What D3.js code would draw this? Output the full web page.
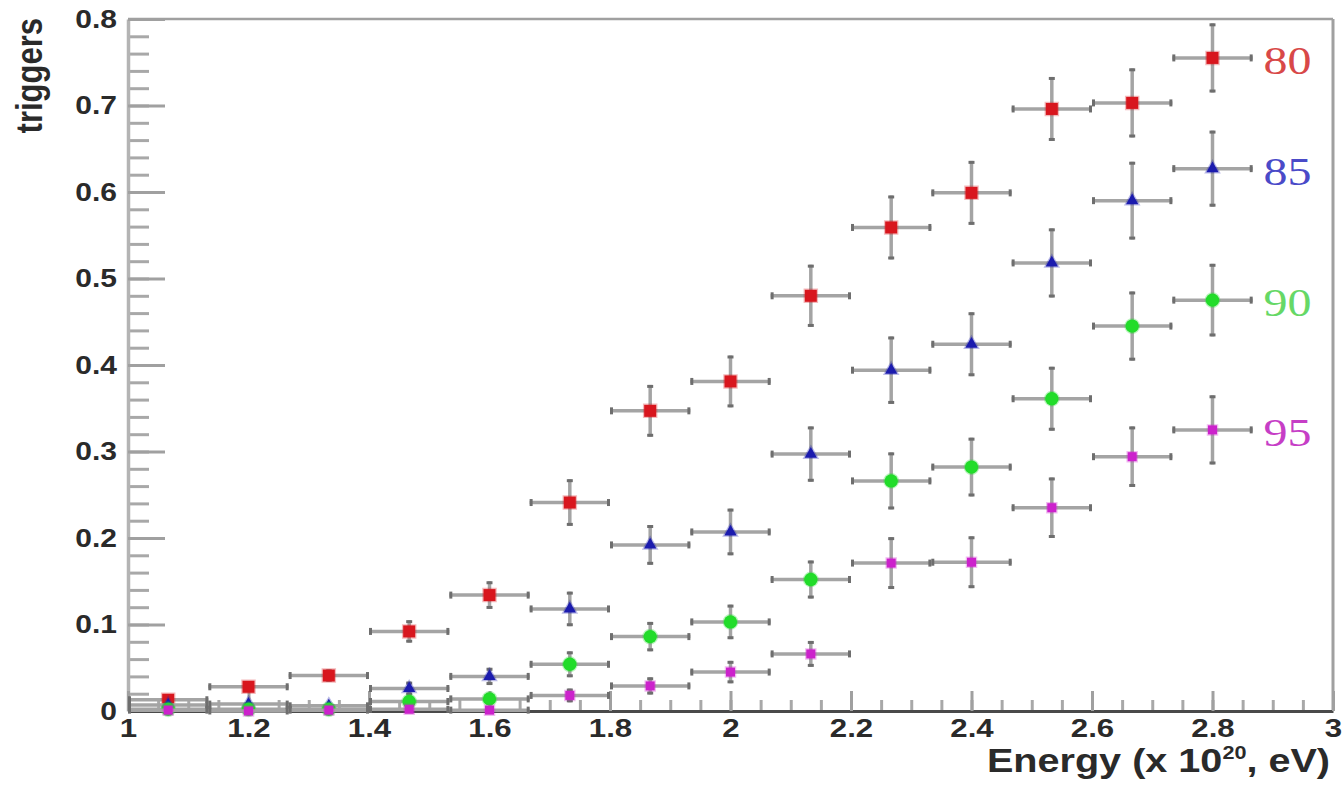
<!DOCTYPE html>
<html>
<head>
<meta charset="utf-8">
<script src="https://cdn.jsdelivr.net/npm/d3@7"></script>
<style>
  html, body { margin: 0; padding: 0; background: #fff; }
  svg { display: block; }
</style>
</head>
<body>
<svg id="chart" width="1344" height="789"></svg>
<script>
// ---- data ----
const binCenters = [1.0667, 1.2, 1.3333, 1.4667, 1.6, 1.7333, 1.8667, 2.0, 2.1333, 2.2667, 2.4, 2.5333, 2.6667, 2.8];
const binHalfWidth = 0.0667;

const seriesNames = ["80", "85", "90", "95"];
const trig80 = [0.013, 0.028, 0.041, 0.092, 0.134, 0.241, 0.347, 0.381, 0.480, 0.559, 0.599, 0.696, 0.703, 0.755];
const err80  = [0.004, 0.006, 0.007, 0.013, 0.016, 0.027, 0.030, 0.030, 0.036, 0.037, 0.037, 0.037, 0.040, 0.040];
const trig85 = [0.007, 0.008, 0.006, 0.026, 0.040, 0.118, 0.192, 0.207, 0.297, 0.394, 0.424, 0.518, 0.590, 0.627];
const err85  = [0.004, 0.005, 0.004, 0.008, 0.010, 0.020, 0.023, 0.027, 0.032, 0.039, 0.037, 0.040, 0.045, 0.044];
const trig90 = [0.002, 0.002, 0.002, 0.011, 0.014, 0.054, 0.086, 0.103, 0.152, 0.266, 0.282, 0.361, 0.445, 0.475];
const err90  = [0.002, 0.002, 0.002, 0.005, 0.007, 0.015, 0.017, 0.020, 0.022, 0.033, 0.034, 0.037, 0.040, 0.042];
const trig95 = [0.001, 0.000, 0.001, 0.002, 0.001, 0.018, 0.029, 0.045, 0.066, 0.171, 0.172, 0.235, 0.294, 0.325];
const err95  = [0.001, 0.000, 0.001, 0.002, 0.001, 0.008, 0.010, 0.013, 0.015, 0.030, 0.030, 0.035, 0.035, 0.040];

const xTickValues = [1, 1.2, 1.4, 1.6, 1.8, 2, 2.2, 2.4, 2.6, 2.8, 3];
const xTickLabels = ["1", "1.2", "1.4", "1.6", "1.8", "2", "2.2", "2.4", "2.6", "2.8", "3"];
const yTickValues = [0, 0.1, 0.2, 0.3, 0.4, 0.5, 0.6, 0.7, 0.8];
const yTickLabels = ["0", "0.1", "0.2", "0.3", "0.4", "0.5", "0.6", "0.7", "0.8"];

// ---- styles ----
const styles = [
  { color: "#d8161e", text: "#d84848", symbol: d3.symbolSquare, size: 144 },
  { color: "#1c1cae", text: "#4a4ac8", symbol: d3.symbolTriangle, size: 66 },
  { color: "#22dc2a", text: "#66d866", symbol: d3.symbolCircle, size: 140 },
  { color: "#cc22cc", text: "#c63ec6", symbol: d3.symbolSquare, size: 81 }
];
const series = [
  { name: seriesNames[0], y: trig80, e: err80 },
  { name: seriesNames[1], y: trig85, e: err85 },
  { name: seriesNames[2], y: trig90, e: err90 },
  { name: seriesNames[3], y: trig95, e: err95 }
];

const SX = 1.2; // horizontal stretch of the text
const svg = d3.select("#chart");
svg.append("rect").attr("width", 1344).attr("height", 789).attr("fill", "#fff");

const mLeft = 128, mRight = 1333, mTop = 19, mBottom = 711;
const x = d3.scaleLinear().domain([1, 3]).range([mLeft, mRight]);
const y = d3.scaleLinear().domain([0, 0.8]).range([mBottom, mTop]);

// frame (top & right)
svg.append("line").attr("x1", mLeft).attr("x2", mRight).attr("y1", mTop).attr("y2", mTop)
  .attr("stroke", "#a0a0a0").attr("stroke-width", 2.5);
svg.append("line").attr("x1", mRight).attr("x2", mRight).attr("y1", mTop).attr("y2", mBottom)
  .attr("stroke", "#a0a0a0").attr("stroke-width", 3);

// minor ticks
const yMinor = d3.range(0, 0.8001, 0.02);
const xMinor = d3.range(1, 3.0001, 0.05);
svg.append("g").attr("transform", `translate(${mLeft},0)`)
  .call(d3.axisLeft(y).tickValues(yMinor).tickSize(-21).tickSizeOuter(0).tickFormat(""))
  .call(g => g.select(".domain").remove())
  .call(g => g.selectAll(".tick line").attr("stroke", "#a8a8a8").attr("stroke-width", 3));
svg.append("g").attr("transform", `translate(0,${mBottom})`)
  .call(d3.axisBottom(x).tickValues(xMinor).tickSize(-11).tickSizeOuter(0).tickFormat(""))
  .call(g => g.select(".domain").remove())
  .call(g => g.selectAll(".tick line").attr("stroke", "#a8a8a8").attr("stroke-width", 3));

// major axes
const yAxis = svg.append("g").attr("transform", `translate(${mLeft},0)`)
  .call(d3.axisLeft(y).tickValues(yTickValues).tickSize(-37).tickSizeOuter(0).tickPadding(11)
    .tickFormat((d, i) => yTickLabels[i]));
yAxis.select(".domain").attr("stroke", "#b4b4b4").attr("stroke-width", 3.5);
yAxis.selectAll(".tick line").attr("stroke", "#a0a0a0").attr("stroke-width", 3);
yAxis.selectAll(".tick text")
  .attr("font-family", "Liberation Sans, Arial, sans-serif").attr("font-weight", "bold")
  .attr("font-size", 25).attr("fill", "#2a2a2a")
  .attr("transform", function () { return `translate(${+this.getAttribute("x")},0) scale(${SX},1)`; })
  .attr("x", 0);

const xAxis = svg.append("g").attr("transform", `translate(0,${mBottom})`)
  .call(d3.axisBottom(x).tickValues(xTickValues).tickSize(-20).tickSizeOuter(0).tickPadding(8)
    .tickFormat((d, i) => xTickLabels[i]));
xAxis.select(".domain").attr("stroke", "#4a4a4a").attr("stroke-width", 3);
xAxis.selectAll(".tick line").attr("stroke", "#a0a0a0").attr("stroke-width", 3);
xAxis.selectAll(".tick text")
  .attr("font-family", "Liberation Sans, Arial, sans-serif").attr("font-weight", "bold")
  .attr("font-size", 26).attr("fill", "#2a2a2a")
  .attr("transform", function () { return `translate(0,${+this.getAttribute("y")}) scale(${SX},1)`; })
  .attr("y", 0);

// axis titles
svg.append("text")
  .attr("transform", `translate(1330,772) scale(${SX},1)`)
  .attr("text-anchor", "end")
  .attr("font-family", "Liberation Sans, Arial, sans-serif").attr("font-weight", "bold")
  .attr("font-size", 33).attr("fill", "#2a2a2a")
  .call(t => {
    t.append("tspan").text("Energy (x 10");
    t.append("tspan").attr("font-size", 18).attr("dy", -13).text("20");
    t.append("tspan").attr("dy", 13).text(", eV)");
  });

svg.append("text")
  .attr("transform", `translate(42,18) scale(${SX},1) rotate(-90)`)
  .attr("text-anchor", "end")
  .attr("font-family", "Liberation Sans, Arial, sans-serif").attr("font-weight", "bold")
  .attr("font-size", 31).attr("fill", "#2a2a2a")
  .text("triggers");

// data
const plot = svg.append("g");
series.forEach((s, si) => {
  const st = styles[si];
  const g = plot.append("g");
  const pts = binCenters.map((c, i) => ({ cx: c, v: s.y[i], e: s.e[i] }));
  const bars = g.selectAll("g.pt").data(pts).join("g").attr("class", "pt");
  // horizontal
  bars.append("line")
    .attr("x1", d => x(d.cx - binHalfWidth)).attr("x2", d => x(d.cx + binHalfWidth))
    .attr("y1", d => y(d.v)).attr("y2", d => y(d.v))
    .attr("stroke", "#a4a4a4").attr("stroke-width", 3.5);
  // vertical
  bars.filter(d => d.e > 0).append("line")
    .attr("x1", d => x(d.cx)).attr("x2", d => x(d.cx))
    .attr("y1", d => y(d.v - d.e)).attr("y2", d => y(d.v + d.e))
    .attr("stroke", "#a4a4a4").attr("stroke-width", 3.5);
  // caps
  bars.append("line")
    .attr("x1", d => x(d.cx - binHalfWidth) + 1.5).attr("x2", d => x(d.cx - binHalfWidth) + 1.5)
    .attr("y1", d => y(d.v) - 3.5).attr("y2", d => y(d.v) + 3.5)
    .attr("stroke", "#6e6e6e").attr("stroke-width", 3);
  bars.append("line")
    .attr("x1", d => x(d.cx + binHalfWidth) - 1.5).attr("x2", d => x(d.cx + binHalfWidth) - 1.5)
    .attr("y1", d => y(d.v) - 3.5).attr("y2", d => y(d.v) + 3.5)
    .attr("stroke", "#6e6e6e").attr("stroke-width", 3);
  bars.filter(d => d.e > 0.005).append("line")
    .attr("x1", d => x(d.cx) - 3).attr("x2", d => x(d.cx) + 3)
    .attr("y1", d => y(d.v + d.e) + 1.5).attr("y2", d => y(d.v + d.e) + 1.5)
    .attr("stroke", "#6e6e6e").attr("stroke-width", 3);
  bars.filter(d => d.e > 0.005).append("line")
    .attr("x1", d => x(d.cx) - 3).attr("x2", d => x(d.cx) + 3)
    .attr("y1", d => y(d.v - d.e) - 1.5).attr("y2", d => y(d.v - d.e) - 1.5)
    .attr("stroke", "#6e6e6e").attr("stroke-width", 3);
  // markers
  g.selectAll("path.mk").data(pts).join("path").attr("class", "mk")
    .attr("d", d3.symbol().type(st.symbol).size(st.size))
    .attr("transform", d => `translate(${x(d.cx)},${y(d.v)})`)
    .attr("fill", st.color)
    .attr("stroke", st.color).attr("stroke-opacity", 0.3).attr("stroke-width", 2.5);

  // series label next to last point
  const last = pts[pts.length - 1];
  svg.append("text")
    .attr("transform", `translate(${x(last.cx) + 51},${y(last.v) + 16}) scale(${SX},1)`)
    .attr("font-family", "Liberation Serif, Times New Roman, serif")
    .attr("font-size", 40).attr("fill", st.text)
    .text(s.name);
});
</script>
</body>
</html>
